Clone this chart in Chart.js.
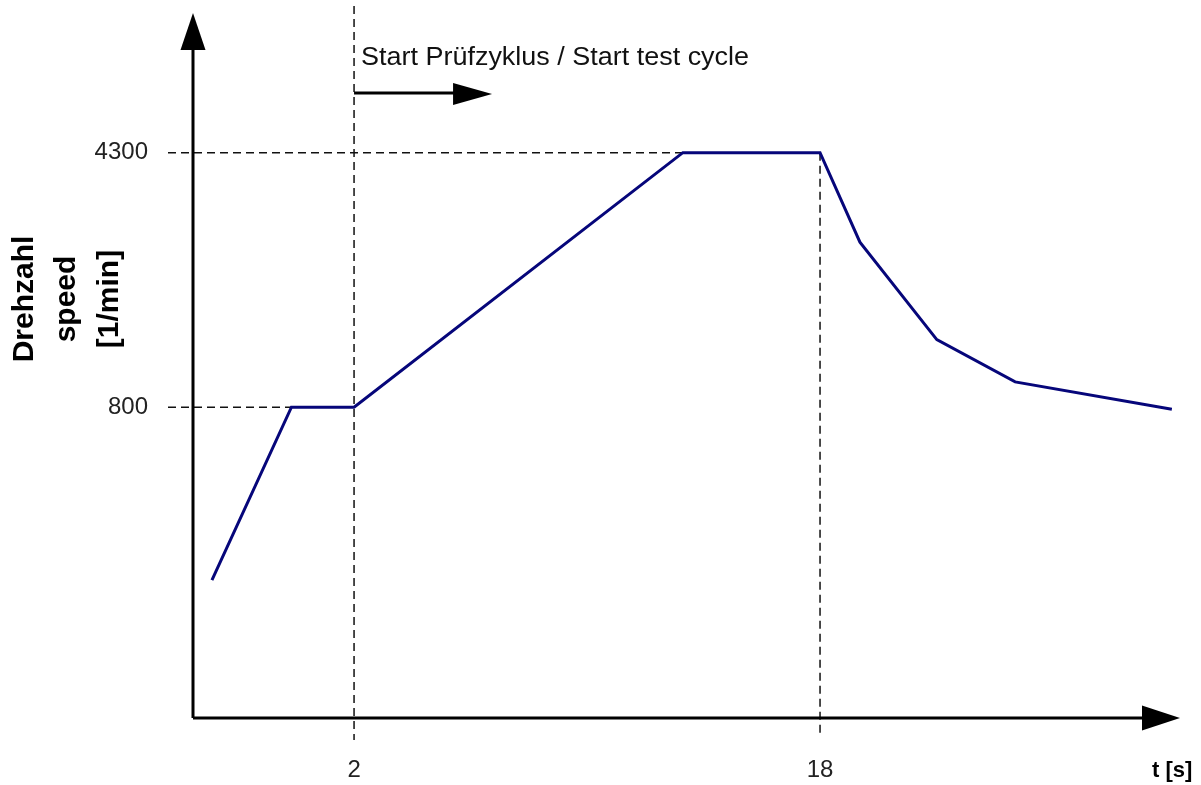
<!DOCTYPE html>
<html>
<head>
<meta charset="utf-8">
<script src="https://cdn.jsdelivr.net/npm/chart.js@4"></script>
<style>
  html, body { margin: 0; padding: 0; background: #fff; }
  #wrap { width: 1201px; height: 785px; }
</style>
</head>
<body>
<div id="wrap"><canvas id="c" width="1201" height="785"></canvas></div>
<script>
// ---- data ----
const timeSec = [-2.88, -0.15, 2, 13.29, 18, 19.37, 22.01, 24.70, 30.08];
const speedRpm = [-1580, 800, 800, 4300, 4300, 3069, 1729, 1147, 770];
const xTickValues = [2, 18];
const yTickValues = [800, 4300];
const yTitleLines = ['Drehzahl', 'speed', '[1/min]'];
const xTitle = 't [s]';
const annotationText = 'Start Prüfzyklus / Start test cycle';
const cycleStart = 2;
const cycleHoldEnd = 18;

const points = timeSec.map((t, i) => ({ x: t, y: speedRpm[i] }));

function arrowHead(ctx, tipX, tipY, dir, len, half) {
  ctx.beginPath();
  if (dir === 'up') {
    ctx.moveTo(tipX, tipY);
    ctx.lineTo(tipX - half, tipY + len);
    ctx.lineTo(tipX + half, tipY + len);
  } else {
    ctx.moveTo(tipX, tipY);
    ctx.lineTo(tipX - len, tipY - half);
    ctx.lineTo(tipX - len, tipY + half);
  }
  ctx.closePath();
  ctx.fill();
}

const AXIS_TOP = 13;

const decor = {
  id: 'decor',
  beforeDatasetsDraw(chart) {
    const { ctx, chartArea, scales: { x, y } } = chart;
    ctx.save();
    ctx.strokeStyle = '#111';
    ctx.lineWidth = 1.5;
    ctx.setLineDash([8, 5]);
    const xs = x.getPixelForValue(cycleStart);
    const xe = x.getPixelForValue(cycleHoldEnd);
    const y800 = y.getPixelForValue(yTickValues[0]);
    const y4300 = y.getPixelForValue(yTickValues[1]);
    const xKnee1 = x.getPixelForValue(timeSec[1]);
    const xKnee2 = x.getPixelForValue(timeSec[3]);
    const lines = [
      [xs, 6, xs, chartArea.bottom + 22],
      [xe, y4300, xe, chartArea.bottom + 16],
      [chartArea.left - 25, y4300, xKnee2, y4300],
      [chartArea.left - 25, y800, xKnee1, y800]
    ];
    lines.forEach(([a, b, c, d]) => {
      ctx.beginPath();
      ctx.moveTo(a, b);
      ctx.lineTo(c, d);
      ctx.stroke();
    });
    ctx.restore();
  },
  afterDraw(chart) {
    const { ctx, chartArea, scales: { x, y } } = chart;
    ctx.save();
    // axes
    ctx.strokeStyle = '#000';
    ctx.fillStyle = '#000';
    ctx.lineWidth = 3;
    ctx.beginPath();
    ctx.moveTo(chartArea.left, chartArea.bottom);
    ctx.lineTo(chartArea.left, AXIS_TOP + 10);
    ctx.stroke();
    ctx.beginPath();
    ctx.moveTo(chartArea.left, chartArea.bottom);
    ctx.lineTo(chartArea.right - 10, chartArea.bottom);
    ctx.stroke();
    arrowHead(ctx, chartArea.left, AXIS_TOP, 'up', 37, 12.5);
    arrowHead(ctx, chartArea.right, chartArea.bottom, 'right', 38, 12.5);

    // start-cycle arrow
    const xs = x.getPixelForValue(cycleStart);
    ctx.lineWidth = 3;
    ctx.beginPath();
    ctx.moveTo(xs, 93);
    ctx.lineTo(xs + 100, 93);
    ctx.stroke();
    ctx.beginPath();
    ctx.moveTo(xs + 138, 94);
    ctx.lineTo(xs + 99, 83);
    ctx.lineTo(xs + 99, 105);
    ctx.closePath();
    ctx.fill();

    // annotation text
    ctx.font = '25px "Liberation Sans", Arial, sans-serif';
    ctx.fillStyle = '#111';
    ctx.textAlign = 'left';
    ctx.textBaseline = 'alphabetic';
    const w = ctx.measureText(annotationText).width;
    ctx.save();
    ctx.translate(xs + 7, 65);
    ctx.scale(388 / w, 1);
    ctx.fillText(annotationText, 0, 0);
    ctx.restore();

    // y title (rotated, 3 lines)
    ctx.font = 'bold 30px "Liberation Sans", Arial, sans-serif';
    ctx.fillStyle = '#000';
    ctx.textAlign = 'center';
    const baselines = [33, 75, 118];
    yTitleLines.forEach((t, i) => {
      ctx.save();
      ctx.translate(baselines[i], 299);
      ctx.rotate(-Math.PI / 2);
      ctx.fillText(t, 0, 0);
      ctx.restore();
    });

    // x title
    ctx.font = 'bold 22px "Liberation Sans", Arial, sans-serif';
    ctx.textAlign = 'left';
    ctx.fillText(xTitle, 1152, 777);
    ctx.restore();
  }
};

new Chart(document.getElementById('c'), {
  type: 'line',
  data: {
    datasets: [{
      data: points,
      borderColor: '#06067a',
      borderWidth: 3,
      pointRadius: 0,
      tension: 0,
      fill: false,
      clip: false
    }]
  },
  options: {
    responsive: false,
    animation: false,
    devicePixelRatio: 1,
    layout: { padding: { top: 13, right: 21, left: 0, bottom: 0 } },
    plugins: { legend: { display: false }, tooltip: { enabled: false } },
    scales: {
      x: {
        type: 'linear',
        min: -3.53,
        max: 30.36,
        grid: { display: false, drawTicks: false },
        border: { display: false },
        afterBuildTicks: s => { s.ticks = xTickValues.map(v => ({ value: v })); },
        afterFit: s => { s.height = 67; },
        ticks: {
          autoSkip: false,
          maxRotation: 0,
          padding: 38,
          color: '#222',
          font: { family: '"Liberation Sans", Arial, sans-serif', size: 24 },
          callback: v => String(v)
        }
      },
      y: {
        type: 'linear',
        min: -3475,
        max: 5583,
        grid: { display: false, drawTicks: false },
        border: { display: false },
        afterBuildTicks: s => { s.ticks = yTickValues.map(v => ({ value: v })); },
        afterFit: s => { s.width = 193; },
        ticks: {
          autoSkip: false,
          padding: 45,
          color: '#222',
          font: { family: '"Liberation Sans", Arial, sans-serif', size: 24 },
          callback: v => String(v)
        }
      }
    }
  },
  plugins: [decor]
});
</script>
</body>
</html>
